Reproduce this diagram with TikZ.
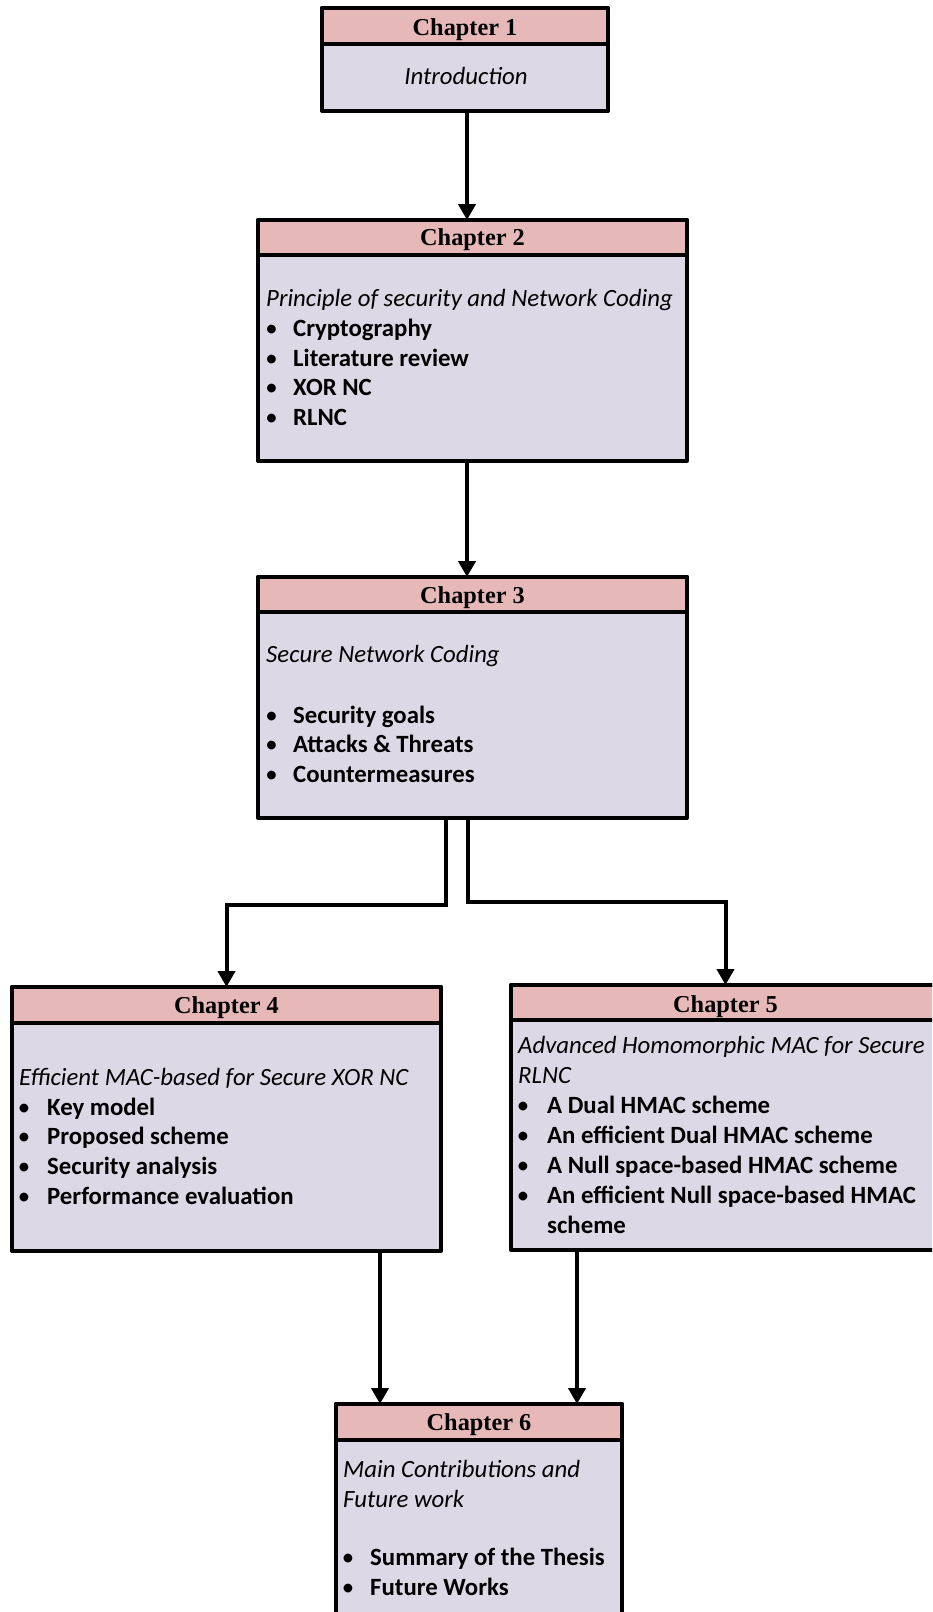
\documentclass[tikz,border=0pt]{standalone}
\usepackage{fontspec}
\usetikzlibrary{arrows.meta}
\newfontfamily\carlitofont{Carlito}
\newfontfamily\libserfont{Liberation Serif}
\definecolor{hdrpink}{HTML}{E6B9B8}
\definecolor{bodylav}{HTML}{DDD8E5}
\begin{document}
\begin{tikzpicture}[x=1pt,y=-1pt,
  chbox/.style={draw=black, line width=4pt, fill=bodylav, rectangle, inner sep=0pt, outer sep=0pt, anchor=north west, line join=round},
  chhead/.style={draw=black, line width=4pt, fill=hdrpink, rectangle, inner sep=0pt, outer sep=0pt, anchor=north west, line join=round},
  chtitle/.style={font=\libserfont\bfseries\fontsize{24.3}{28}\selectfont, anchor=base, inner sep=0pt},
  chsub/.style={font=\carlitofont\itshape\fontsize{24.8}{29}\selectfont, anchor=base west, inner sep=0pt},
  chsubc/.style={chsub, anchor=base},
  chitem/.style={font=\carlitofont\bfseries\fontsize{24.8}{29}\selectfont, anchor=base west, inner sep=0pt},
  chbul/.style={font=\carlitofont\fontsize{24.8}{29}\selectfont, anchor=base, inner sep=0pt},
  charrow/.style={draw=black, line width=4pt, -{Triangle[length=16pt,width=17pt]}},
]
\useasboundingbox (0,0) rectangle (932,1612);
\clip (0,0) rectangle (932,1612);
% boxes
\node[chbox, minimum width=286pt, minimum height=103pt] (b1) at (322,8) {};
\node[chhead, minimum width=286pt, minimum height=36pt] (h1) at (322,8) {};
\node[chbox, minimum width=429pt, minimum height=241pt] (b2) at (258,220) {};
\node[chhead, minimum width=429pt, minimum height=35pt] (h2) at (258,220) {};
\node[chbox, minimum width=429pt, minimum height=241pt] (b3) at (258,577) {};
\node[chhead, minimum width=429pt, minimum height=35pt] (h3) at (258,577) {};
\node[chbox, minimum width=429pt, minimum height=264pt] (b4) at (12,987) {};
\node[chhead, minimum width=429pt, minimum height=36pt] (h4) at (12,987) {};
\node[chbox, minimum width=450pt, minimum height=265pt] (b5) at (511,985) {};
\node[chhead, minimum width=450pt, minimum height=35pt] (h5) at (511,985) {};
\node[chbox, minimum width=286pt, minimum height=230pt] (b6) at (336,1404) {};
\node[chhead, minimum width=286pt, minimum height=36pt] (h6) at (336,1404) {};
% box 1
\node[chtitle] (t1) at (465,35) {Chapter 1};
\node[chsubc] (s1) at (466,84) {Introduction};
% box 2
\node[chtitle] (t2) at (472.5,245) {Chapter 2};
\node[chsub] (s2) at (266,306) {Principle of security and Network Coding};
\node[chbul] (p2a) at (271.5,336.5) {•};
\node[chitem] (i2a) at (293,336.5) {Cryptography};
\node[chbul] (p2b) at (271.5,366) {•};
\node[chitem] (i2b) at (293,366) {Literature review};
\node[chbul] (p2c) at (271.5,395.5) {•};
\node[chitem] (i2c) at (293,395.5) {XOR NC};
\node[chbul] (p2d) at (271.5,425) {•};
\node[chitem] (i2d) at (293,425) {RLNC};
% box 3
\node[chtitle] (t3) at (472.5,603) {Chapter 3};
\node[chsub] (s3) at (266,662) {Secure Network Coding};
\node[chbul] (p3a) at (271.5,723) {•};
\node[chitem] (i3a) at (293,723) {Security goals};
\node[chbul] (p3b) at (271.5,752.5) {•};
\node[chitem] (i3b) at (293,752.5) {Attacks \& Threats};
\node[chbul] (p3c) at (271.5,782) {•};
\node[chitem] (i3c) at (293,782) {Countermeasures};
% box 4
\node[chtitle] (t4) at (226.5,1013) {Chapter 4};
\node[chsub] (s4) at (19,1085) {Efficient MAC-based for Secure XOR NC};
\node[chbul] (p4a) at (24,1115) {•};
\node[chitem] (i4a) at (47,1115) {Key model};
\node[chbul] (p4b) at (24,1144.5) {•};
\node[chitem] (i4b) at (47,1144.5) {Proposed scheme};
\node[chbul] (p4c) at (24,1174) {•};
\node[chitem] (i4c) at (47,1174) {Security analysis};
\node[chbul] (p4d) at (24,1204) {•};
\node[chitem] (i4d) at (47,1204) {Performance evaluation};
% box 5
\node[chtitle] (t5) at (725.5,1012) {Chapter 5};
\node[chsub] (s5a) at (518,1053) {Advanced Homomorphic MAC for Secure};
\node[chsub] (s5b) at (518,1083) {RLNC};
\node[chbul] (p5a) at (523,1113) {•};
\node[chitem] (i5a) at (547,1113) {A Dual HMAC scheme};
\node[chbul] (p5b) at (523,1143) {•};
\node[chitem] (i5b) at (547,1143) {An efficient Dual HMAC scheme};
\node[chbul] (p5c) at (523,1173) {•};
\node[chitem] (i5c) at (547,1173) {A Null space-based HMAC scheme};
\node[chbul] (p5d) at (523,1203) {•};
\node[chitem] (i5d) at (547,1203) {An efficient Null space-based HMAC};
\node[chitem] (i5e) at (547,1233) {scheme};
% box 6
\node[chtitle] (t6) at (479,1430) {Chapter 6};
\node[chsub] (s6a) at (343,1477) {Main Contributions and};
\node[chsub] (s6b) at (343,1507) {Future work};
\node[chbul] (p6a) at (348,1565) {•};
\node[chitem] (i6a) at (370,1565) {Summary of the Thesis};
\node[chbul] (p6b) at (348,1595) {•};
\node[chitem] (i6b) at (370,1595) {Future Works};
% connectors
\coordinate (x12) at (467,0);
\coordinate (k4) at (446,905);
\coordinate (k5) at (467.5,902);
\coordinate (x5) at (725.5,0);
\coordinate (x46) at (380,0);
\coordinate (x56) at (577,0);
\draw[charrow] (b1.south -| x12) -- (b2.north -| x12);
\draw[charrow] (b2.south -| x12) -- (b3.north -| x12);
\draw[charrow] (b3.south -| k4) -- (k4) -| (b4.north);
\draw[charrow] (b3.south -| k5) -- (k5) -| (b5.north -| x5);
\draw[charrow] (b4.south -| x46) -- (b6.north -| x46);
\draw[charrow] (b5.south -| x56) -- (b6.north -| x56);
\end{tikzpicture}
\end{document}
